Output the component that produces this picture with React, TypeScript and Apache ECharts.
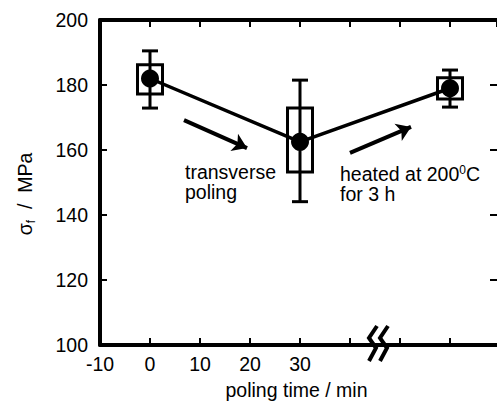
import React, { useEffect, useRef } from "react";
import * as echarts from "echarts";

const poleTimes = [0, 30, 60];
const strengthMean = [182, 162.5, 179];
const boxLow = [177.2, 153.2, 175.7];
const boxHigh = [186.2, 172.9, 182.2];
const errLow = [172.9, 144.1, 173.2];
const errHigh = [190.5, 181.5, 184.6];
const xTickLabels = ["-10", "0", "10", "20", "30"];
const arrowStarts = [[6.8, 169.2], [40, 159.1]];
const arrowEnds = [[19.4, 160.6], [52.2, 167.1]];

const FONT = "'Liberation Sans', Arial, sans-serif";
const FS = 19.5;

export default function App() {
  const ref = useRef<HTMLDivElement>(null);
  useEffect(() => {
    if (!ref.current) return;
    const chart = echarts.init(ref.current, null, { renderer: "svg" });
    const black = "#000";
    const tickStyle = { inside: true, length: 7, lineStyle: { color: black, width: 2 } };
    const lineStyle = { color: black, width: 4 };
    const breakX = [369, 380];
    const xMin = -10;
    const xMax = 69.4;
    const option: any = {
      animation: false,
      backgroundColor: "#fff",
      grid: { left: 100, top: 20, width: 397, height: 325, outerBoundsMode: "none", containLabel: false },
      xAxis: [
        {
          type: "value",
          position: "bottom",
          min: xMin,
          max: xMax,
          interval: 10,
          axisLine: { show: true, onZero: false, lineStyle },
          axisTick: tickStyle,
          splitLine: { show: false },
          axisLabel: {
            color: black,
            fontSize: FS,
            fontFamily: FONT,
            margin: 9,
            showMaxLabel: false,
            formatter: (v: number) => (xTickLabels.includes(String(v)) ? String(v) : ""),
          },
          name: "poling time / min",
          nameLocation: "middle",
          nameGap: 35,
          nameTextStyle: { color: black, fontSize: FS, fontFamily: FONT, padding: [0, 0, 0, -4] },
        },
        {
          type: "value",
          position: "top",
          min: xMin,
          max: xMax,
          interval: 10,
          axisLine: { show: true, onZero: false, lineStyle },
          axisTick: tickStyle,
          splitLine: { show: false },
          axisLabel: { show: false },
        },
      ],
      yAxis: [
        {
          type: "value",
          position: "left",
          min: 100,
          max: 200,
          interval: 20,
          axisLine: { show: true, onZero: false, lineStyle },
          axisTick: tickStyle,
          splitLine: { show: false },
          axisLabel: { color: black, fontSize: FS, fontFamily: FONT, margin: 12 },
        },
        {
          type: "value",
          position: "right",
          min: 100,
          max: 200,
          interval: 20,
          axisLine: { show: false, onZero: false, lineStyle },
          axisTick: { show: true, ...tickStyle },
          splitLine: { show: false },
          axisLabel: { show: false },
        },
      ],
      series: [
        {
          type: "custom",
          xAxisIndex: 0,
          yAxisIndex: 0,
          z: 3,
          encode: { x: 0, y: [1, 2, 3, 4, 5] },
          data: poleTimes.map((t, i) => [t, strengthMean[i], boxLow[i], boxHigh[i], errLow[i], errHigh[i]]),
          renderItem: (params: any, api: any) => {
            const x = api.value(0);
            const c = api.coord([x, api.value(1)]);
            const lo = api.coord([x, api.value(2)]);
            const hi = api.coord([x, api.value(3)]);
            const el = api.coord([x, api.value(4)]);
            const eh = api.coord([x, api.value(5)]);
            const bw = 25;
            const cw = 16;
            const st = { stroke: black, lineWidth: 3, fill: "none" };
            return {
              type: "group",
              children: [
                { type: "rect", shape: { x: c[0] - bw / 2, y: hi[1], width: bw, height: lo[1] - hi[1] }, style: st },
                { type: "line", shape: { x1: c[0], y1: eh[1], x2: c[0], y2: el[1] }, style: st },
                { type: "line", shape: { x1: c[0] - cw / 2, y1: eh[1], x2: c[0] + cw / 2, y2: eh[1] }, style: st },
                { type: "line", shape: { x1: c[0] - cw / 2, y1: el[1], x2: c[0] + cw / 2, y2: el[1] }, style: st },
              ],
            };
          },
        },
        {
          type: "line",
          xAxisIndex: 0,
          yAxisIndex: 0,
          z: 4,
          data: poleTimes.map((t, i) => [t, strengthMean[i]]),
          symbol: "circle",
          symbolSize: 18,
          itemStyle: { color: black },
          lineStyle: { color: black, width: 3.5 },
        },
        {
          type: "lines",
          coordinateSystem: "cartesian2d",
          xAxisIndex: 0,
          yAxisIndex: 0,
          z: 4,
          symbol: ["none", "arrow"],
          symbolSize: [10, 14],
          lineStyle: { color: black, width: 4, curveness: 0, opacity: 1 },
          data: arrowStarts.map((s, i) => ({ coords: [s, arrowEnds[i]] })),
        },
      ],
      graphic: [
        {
          type: "text",
          left: 185,
          top: 162,
          style: { text: "transverse\npoling", fontSize: FS, fontFamily: FONT, fill: black, lineHeight: 20 },
        },
        {
          type: "text",
          left: 340,
          top: 164,
          style: {
            text: "heated at 200{sup|0}C\nfor 3 h",
            fontSize: FS,
            fontFamily: FONT,
            fill: black,
            lineHeight: 20,
            rich: { sup: { fontSize: 12, fontFamily: FONT, verticalAlign: "top", lineHeight: 20, fill: black } },
          },
        },
        {
          type: "text",
          x: 25,
          y: 194,
          rotation: Math.PI / 2,
          style: {
            text: "σ{sub|f}  /  MPa",
            fontSize: FS,
            fontFamily: FONT,
            fill: black,
            align: "center",
            verticalAlign: "middle",
            lineHeight: 24,
            rich: { sub: { fontSize: 12, fontFamily: FONT, verticalAlign: "bottom", lineHeight: 24, fill: black } },
          },
        },
        ...breakX.map((bx) => ({
          type: "polyline",
          z: 100,
          shape: { points: [[bx + 8, 326], [bx, 338], [bx + 7, 348], [bx, 361]] },
          style: { stroke: black, lineWidth: 4, fill: "none" },
        })),
      ],
    };
    chart.setOption(option);
    return () => chart.dispose();
  }, []);
  return (
    <div
      ref={ref}
      style={{ position: "fixed", left: 0, top: 0, width: 497, height: 406, background: "#fff" }}
    />
  );
}
